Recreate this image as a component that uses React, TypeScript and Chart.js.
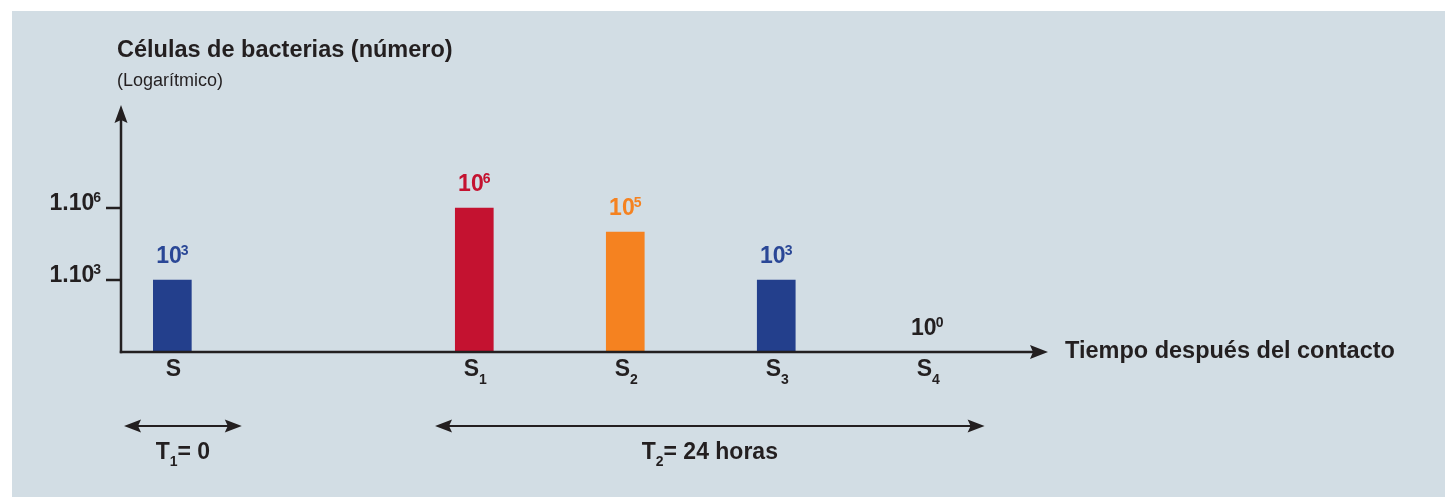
import React, { useEffect, useRef } from "react";
import { Chart, registerables } from "chart.js";

Chart.register(...registerables);

// ---- data ----
const categoryBase = ["S", "S", "S", "S", "S"];
const categorySub = ["", "1", "2", "3", "4"];
const categoryPos = [0, 2, 3, 4, 5];
const cellCounts = [1e3, 1e6, 1e5, 1e3, 1e0];
const barColors = ["#233f8c", "#c41230", "#f58220", "#233f8c", "#233f8c"];
const valueLabelColors = ["#2a4796", "#c41230", "#f58220", "#2a4796", "#231f20"];
const yTickValues = [1e3, 1e6];
const yTickBase = ["1.10", "1.10"];
const yTickSup = ["3", "6"];
const periodMain = ["T", "T"];
const periodSub = ["1", "2"];
const periodRest = ["= 0", "= 24 horas"];
const periodFrom = [-0.32, 1.74];
const periodTo = [0.46, 5.38];

const yTitle = "Células de bacterias (número)";
const ySubtitle = "(Logarítmico)";
const xTitle = "Tiempo después del contacto";

const FONT = "'Liberation Sans', Arial, Helvetica, sans-serif";
const INK = "#231f20";

function drawSup(ctx: CanvasRenderingContext2D, base: string, sup: string, x: number, y: number, align: "center" | "right" | "left", size: number, supSize: number, rise: number, color: string) {
  ctx.save();
  ctx.fillStyle = color;
  ctx.textBaseline = "alphabetic";
  ctx.textAlign = "left";
  ctx.font = `bold ${size}px ${FONT}`;
  const wb = ctx.measureText(base).width;
  ctx.font = `bold ${supSize}px ${FONT}`;
  const ws = ctx.measureText(sup).width;
  const total = wb + ws - 1;
  let x0 = x;
  if (align === "center") x0 = x - total / 2;
  else if (align === "right") x0 = x - total;
  ctx.font = `bold ${size}px ${FONT}`;
  ctx.fillText(base, x0, y);
  ctx.font = `bold ${supSize}px ${FONT}`;
  ctx.fillText(sup, x0 + wb - 1, y - rise);
  ctx.restore();
}

function drawSub(ctx: CanvasRenderingContext2D, base: string, sub: string, rest: string, x: number, y: number, size: number, subSize: number, drop: number) {
  ctx.save();
  ctx.fillStyle = INK;
  ctx.textBaseline = "alphabetic";
  ctx.textAlign = "left";
  ctx.font = `bold ${size}px ${FONT}`;
  const wb = ctx.measureText(base).width;
  const wr = ctx.measureText(rest).width;
  ctx.font = `bold ${subSize}px ${FONT}`;
  const ws = sub ? ctx.measureText(sub).width : 0;
  const total = wb + ws + wr;
  const x0 = x - total / 2;
  ctx.font = `bold ${size}px ${FONT}`;
  ctx.fillText(base, x0, y);
  if (rest) ctx.fillText(rest, x0 + wb + ws, y);
  if (sub) {
    ctx.font = `bold ${subSize}px ${FONT}`;
    ctx.fillText(sub, x0 + wb, y + drop);
  }
  ctx.restore();
}

function arrowHead(ctx: CanvasRenderingContext2D, tx: number, ty: number, dx: number, dy: number, len: number, half: number) {
  const bx = tx - dx * len;
  const by = ty - dy * len;
  const px = -dy;
  const py = dx;
  ctx.beginPath();
  ctx.moveTo(tx, ty);
  ctx.lineTo(bx + px * half, by + py * half);
  ctx.lineTo(bx + dx * 3, by + dy * 3);
  ctx.lineTo(bx - px * half, by - py * half);
  ctx.closePath();
  ctx.fill();
}

const decorPlugin = {
  id: "decor",
  beforeDraw(chart: any) {
    const ctx = chart.ctx as CanvasRenderingContext2D;
    ctx.save();
    ctx.fillStyle = "#ffffff";
    ctx.fillRect(0, 0, chart.width, chart.height);
    ctx.fillStyle = "#d2dde4";
    ctx.fillRect(12, 11, chart.width - 12, chart.height - 11);
    ctx.restore();
  },
  afterDraw(chart: any) {
    const ctx = chart.ctx as CanvasRenderingContext2D;
    const xs = chart.scales.x;
    const ys = chart.scales.y;
    const area = chart.chartArea;
    const left = area.left;
    const bottom = area.bottom;

    ctx.save();
    ctx.strokeStyle = INK;
    ctx.fillStyle = INK;
    ctx.lineWidth = 2.5;
    // y axis
    ctx.beginPath();
    ctx.moveTo(left, bottom + 1.2);
    ctx.lineTo(left, 118);
    ctx.stroke();
    arrowHead(ctx, left, 105, 0, -1, 18, 6.5);
    // x axis
    ctx.beginPath();
    ctx.moveTo(left - 1.2, bottom);
    ctx.lineTo(1036, bottom);
    ctx.stroke();
    arrowHead(ctx, 1048, bottom, 1, 0, 18, 7);

    // y ticks
    yTickValues.forEach((v, i) => {
      const y = ys.getPixelForValue(v);
      ctx.beginPath();
      ctx.moveTo(106, y);
      ctx.lineTo(left, y);
      ctx.stroke();
      drawSup(ctx, yTickBase[i], yTickSup[i], 101, y + 2, "right", 23, 14, 8, INK);
    });

    // titles
    ctx.fillStyle = INK;
    ctx.textAlign = "left";
    ctx.textBaseline = "alphabetic";
    ctx.font = `bold 23.5px ${FONT}`;
    ctx.fillText(yTitle, 117, 57);
    ctx.font = `18px ${FONT}`;
    ctx.fillText(ySubtitle, 117, 86);
    ctx.font = `bold 23.5px ${FONT}`;
    ctx.fillText(xTitle, 1065, 358);

    // category labels and value labels
    categoryPos.forEach((p, i) => {
      const x = xs.getPixelForValue(p);
      drawSub(ctx, categoryBase[i], categorySub[i], "", x + 1, 376, 23, 14, 8);
      const top = ys.getPixelForValue(cellCounts[i]);
      const exp = String(Math.round(Math.log10(cellCounts[i])));
      drawSup(ctx, "10", exp, x, top - 17, "center", 23, 14, 8, valueLabelColors[i]);
    });

    // period arrows
    ctx.lineWidth = 2;
    periodFrom.forEach((f, i) => {
      const x1 = xs.getPixelForValue(f);
      const x2 = xs.getPixelForValue(periodTo[i]);
      const y = 426;
      ctx.beginPath();
      ctx.moveTo(x1 + 10, y);
      ctx.lineTo(x2 - 10, y);
      ctx.stroke();
      arrowHead(ctx, x1, y, -1, 0, 17, 6.5);
      arrowHead(ctx, x2, y, 1, 0, 17, 6.5);
      drawSub(ctx, periodMain[i], periodSub[i], periodRest[i], (x1 + x2) / 2, 459, 23, 14, 7);
    });
    ctx.restore();
  },
};

export default function App() {
  const ref = useRef<HTMLCanvasElement | null>(null);
  useEffect(() => {
    if (!ref.current) return;
    const chart = new Chart(ref.current, {
      type: "bar",
      data: {
        datasets: [
          {
            data: categoryPos.map((p, i) => ({ x: p, y: cellCounts[i] })),
            backgroundColor: barColors,
            borderWidth: 0,
            barThickness: 38,
          },
        ],
      },
      options: {
        animation: false,
        responsive: false,
        devicePixelRatio: 1,
        layout: { padding: { left: 121, right: 400, top: 112, bottom: 145 } },
        scales: {
          x: { type: "linear", min: -0.34, max: 5.78, offset: false, display: false },
          y: { type: "logarithmic", min: 1, max: 1e10, display: false },
        },
        plugins: { legend: { display: false }, tooltip: { enabled: false } },
      },
      plugins: [decorPlugin],
    } as any);
    return () => chart.destroy();
  }, []);
  return (
    <div style={{ position: "absolute", left: 0, top: 0, width: 1445, height: 497 }}>
      <canvas ref={ref} width={1445} height={497} style={{ width: 1445, height: 497, display: "block" }} />
    </div>
  );
}
